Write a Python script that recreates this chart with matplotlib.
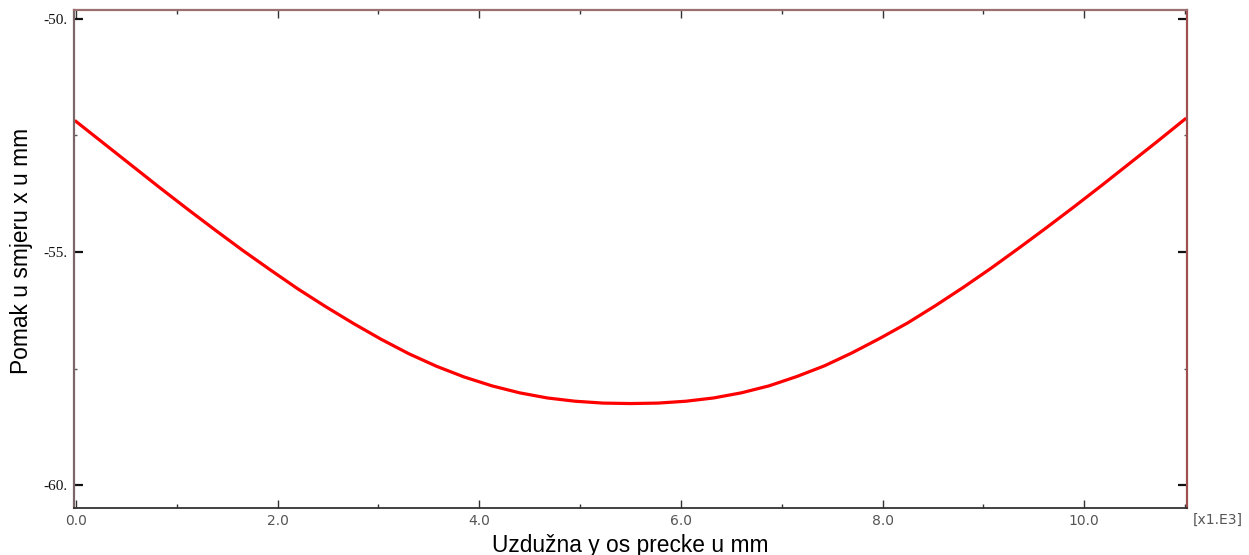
import matplotlib
matplotlib.use("Agg")
from matplotlib import pyplot as plt
from matplotlib.ticker import MultipleLocator, FuncFormatter

# polozaj uzduz precke (mm) i pomak u smjeru x (mm), ocitano sa slike
y_os = [0, 275, 550, 825, 1100, 1375, 1650, 1925, 2200, 2475,
        2750, 3025, 3300, 3575, 3850, 4125, 4400, 4675, 4950, 5225,
        5500, 5775, 6050, 6325, 6600, 6875, 7150, 7425, 7700, 7975,
        8250, 8525, 8800, 9075, 9350, 9625, 9900, 10175, 10450, 10725,
        11000]
pomak_x = [-52.20, -52.67, -53.14, -53.61, -54.07, -54.52, -54.96, -55.38, -55.79, -56.17,
           -56.53, -56.87, -57.18, -57.45, -57.68, -57.87, -58.02, -58.13, -58.20, -58.24,
           -58.25, -58.24, -58.20, -58.13, -58.02, -57.87, -57.67, -57.44, -57.16, -56.85,
           -56.52, -56.15, -55.76, -55.35, -54.92, -54.48, -54.03, -53.57, -53.10, -52.63,
           -52.15]

x_ticks = [0, 2000, 4000, 6000, 8000, 10000]
y_ticks = [-60, -55, -50]
y_tick_labels = ["-60.", "-55.", "-50."]

fig = plt.figure(figsize=(12.49, 5.55), dpi=100)
ax = fig.add_axes([74 / 1249, 1 - 508 / 555, (1187 - 74) / 1249, (508 - 10) / 555])

ax.plot(y_os, pomak_x, color="#ff0000", linewidth=2.3)

ax.set_xlim(-20, 11020)
ax.set_ylim(-60.49, -49.81)

ax.set_xticks(x_ticks)
ax.xaxis.set_minor_locator(MultipleLocator(1000))
ax.xaxis.set_major_formatter(FuncFormatter(lambda v, p: "%.1f" % (v / 1000)))
ax.set_yticks(y_ticks)
ax.set_yticklabels(y_tick_labels)
ax.yaxis.set_minor_locator(MultipleLocator(2.5))

ax.tick_params(axis="x", which="major", direction="in", length=5.5, width=1,
               top=True, bottom=True, color="#333333", labelsize=10,
               labelcolor="#555555", pad=4)
ax.tick_params(axis="x", which="minor", direction="in", length=3, width=1,
               top=True, bottom=True, color="#333333")
ax.tick_params(axis="y", which="major", direction="in", length=6.5, width=1.6,
               left=True, right=True, color="#111111", pad=5)
ax.tick_params(axis="y", which="minor", direction="in", length=2.5, width=1,
               left=True, right=True, color="#555555")
for lbl in ax.get_yticklabels():
    lbl.set_fontfamily("Liberation Serif")
    lbl.set_fontsize(11)
    lbl.set_color("#111111")
for lbl in ax.get_xticklabels():
    lbl.set_fontfamily("DejaVu Sans")

ax.spines["left"].set_color("#7a6868")
ax.spines["left"].set_linewidth(1.6)
ax.spines["top"].set_color("#9c7070")
ax.spines["top"].set_linewidth(1.6)
ax.spines["right"].set_color("#a05050")
ax.spines["right"].set_linewidth(1.6)
ax.spines["bottom"].set_color("#333333")
ax.spines["bottom"].set_linewidth(1.3)

ax.set_xlabel("Uzdužna y os precke u mm", fontsize=16.4, family="Liberation Sans",
              color="#000000")
ax.xaxis.set_label_coords(0.5, (508 - 552) / 498)
ax.xaxis.label.set_va("baseline")
ax.set_ylabel("Pomak u smjeru x u mm", fontsize=16.4, family="Liberation Sans",
              color="#000000")
ax.yaxis.set_label_coords((28 - 74) / 1113, 0.516)
ax.yaxis.label.set_va("baseline")

fig.text(1193 / 1249, 1 - 520 / 555, "[x1.E3]", fontsize=10, family="DejaVu Sans",
         color="#555555", va="center", ha="left")

fig.savefig("out.png", dpi=100)
